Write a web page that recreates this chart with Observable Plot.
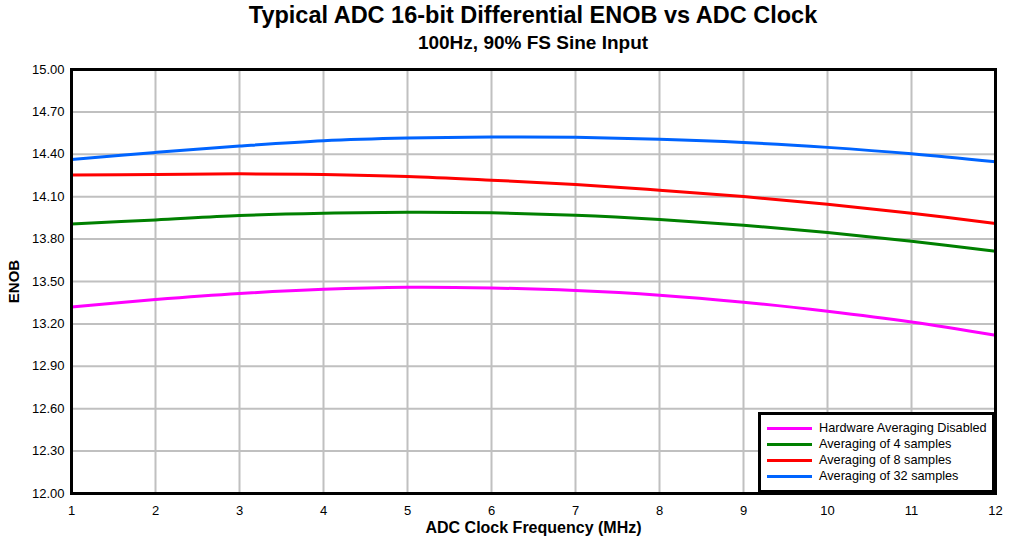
<!DOCTYPE html>
<html>
<head>
<meta charset="utf-8">
<script src="https://cdn.jsdelivr.net/npm/d3@7"></script>
<script src="https://cdn.jsdelivr.net/npm/@observablehq/plot@0.6"></script>
<style>
  html, body { margin: 0; padding: 0; background: white; }
  #page { position: relative; width: 1019px; height: 545px; font-family: "Liberation Sans", Arial, sans-serif; color: black; overflow: hidden; }
  #header { position: relative; width: 1019px; height: 52px; }
  .ttl { position: absolute; left: 533px; transform: translateX(-50%); white-space: nowrap; font-weight: bold; line-height: 1; }
  #title { top: 4px; font-size: 23.5px; }
  #subtitle { top: 33px; font-size: 19px; }
  #legend { position: absolute; left: 758px; top: 412px; width: 237px; height: 81px; box-sizing: border-box; border: 3px solid black; background: white; padding-top: 5px; font-size: 12.7px; }
  .item { height: 16px; display: flex; align-items: center; }
  .sw { width: 45px; height: 3px; margin-left: 6px; margin-right: 7px; }
  svg g[aria-label="x-axis label"] { font-weight: bold; font-size: 16px; }
  svg g[aria-label="y-axis label"] { font-weight: bold; font-size: 15px; }
</style>
</head>
<body>
<div id="page">
  <div id="header">
    <div class="ttl" id="title">Typical ADC 16-bit Differential ENOB vs ADC Clock</div>
    <div class="ttl" id="subtitle">100Hz, 90% FS Sine Input</div>
  </div>
  <div id="chart"></div>
  <div id="legend"></div>
</div>
<script>
// ---- data ----
const xValues = [1, 2, 3, 4, 5, 6, 7, 8, 9, 10, 11, 12];
const seriesNames = [
  "Hardware Averaging Disabled",
  "Averaging of 4 samples",
  "Averaging of 8 samples",
  "Averaging of 32 samples"
];
const seriesColors = ["#ff00ff", "#008000", "#ff0000", "#0064ff"];
const hwDisabled = [13.320, 13.372, 13.415, 13.445, 13.459, 13.454, 13.436, 13.403, 13.353, 13.289, 13.213, 13.119];
const avg4 = [13.906, 13.936, 13.967, 13.983, 13.990, 13.986, 13.969, 13.939, 13.898, 13.847, 13.785, 13.714];
const avg8 = [14.253, 14.257, 14.262, 14.257, 14.243, 14.217, 14.187, 14.146, 14.101, 14.047, 13.983, 13.910];
const avg32 = [14.364, 14.413, 14.458, 14.496, 14.515, 14.522, 14.520, 14.507, 14.484, 14.449, 14.404, 14.347];
const xTicks = [1, 2, 3, 4, 5, 6, 7, 8, 9, 10, 11, 12];
const yTicks = [12.00, 12.30, 12.60, 12.90, 13.20, 13.50, 13.80, 14.10, 14.40, 14.70, 15.00];

const seriesValues = [hwDisabled, avg4, avg8, avg32];
const rows = [];
seriesValues.forEach((vals, i) => {
  vals.forEach((v, j) => rows.push({series: seriesNames[i], x: xValues[j], y: v}));
});

const grid = {stroke: "#c0c0c0", strokeOpacity: 1, strokeWidth: 2};

const chart = Plot.plot({
  width: 1019,
  height: 493,
  marginTop: 17,
  marginRight: 24,
  marginBottom: 52,
  marginLeft: 71,
  style: {fontFamily: "'Liberation Sans', Arial, sans-serif", fontSize: "13px", color: "black", background: "white", overflow: "visible"},
  x: {domain: [1, 12]},
  y: {domain: [12, 15]},
  color: {domain: seriesNames, range: seriesColors},
  marks: [
    Plot.gridX(xTicks, grid),
    Plot.gridY(yTicks, grid),
    Plot.line(rows, {x: "x", y: "y", stroke: "series", strokeWidth: 3, curve: "catmull-rom"}),
    Plot.frame({stroke: "black", strokeWidth: 3}),
    Plot.axisX(xTicks, {tickSize: 0, tickPadding: 12, tickFormat: d => String(d),
      label: "ADC Clock Frequency (MHz)", labelAnchor: "center", labelOffset: 39, labelArrow: "none"}),
    Plot.axisY(yTicks, {tickSize: 0, tickPadding: 7, tickFormat: d3.format(".2f"),
      label: "ENOB", labelAnchor: "center", labelOffset: 63, labelArrow: "none"})
  ]
});
document.getElementById("chart").appendChild(chart);

const legend = d3.select("#legend");
seriesNames.forEach((name, i) => {
  const item = legend.append("div").attr("class", "item");
  item.append("span").attr("class", "sw").style("background", seriesColors[i]);
  item.append("span").text(name);
});
</script>
</body>
</html>
